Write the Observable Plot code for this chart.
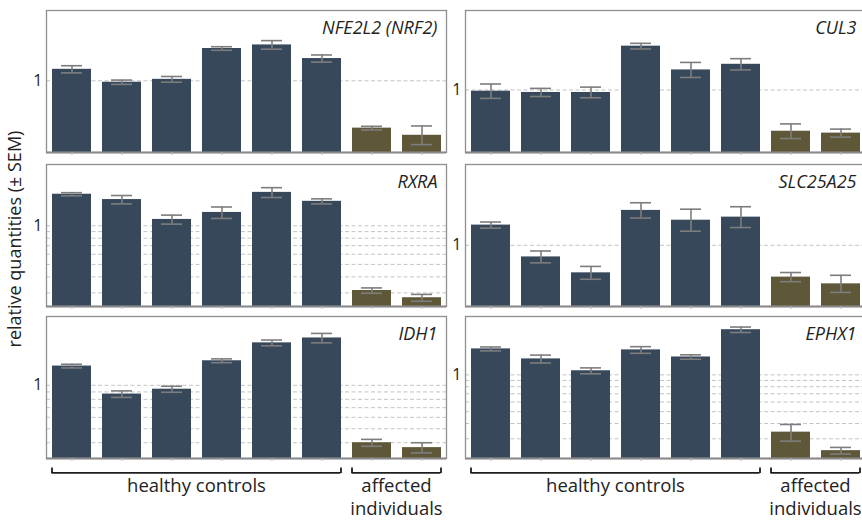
<!DOCTYPE html>
<html>
<head>
<meta charset="utf-8">
<script src="https://cdn.jsdelivr.net/npm/d3@7"></script>
<script src="https://cdn.jsdelivr.net/npm/@observablehq/plot@0.6"></script>
<style>
html, body { margin: 0; padding: 0; background: #fff; overflow: hidden; width: 862px; height: 521px; }
#chart { position: relative; width: 862px; height: 521px; font-family: 'Open Sans', sans-serif; color: #222; overflow: hidden; }
#chart svg { position: absolute; overflow: visible; }
.ylab { position: absolute; width: 300px; text-align: center; font-size: 18px; line-height: 22px; transform-origin: 0 0; transform: rotate(-90deg); white-space: nowrap; }
</style>
</head>
<body>
<div id="chart"></div>
<script>
// ---- data ----
const samples = ["C1", "C2", "C3", "C4", "C5", "C6", "P1", "P2"];
const groups = ["healthy", "healthy", "healthy", "healthy", "healthy", "healthy", "affected", "affected"];
const genes = ["NFE2L2 (NRF2)", "CUL3", "RXRA", "SLC25A25", "IDH1", "EPHX1"];
const scaleTypes = ["linear", "linear", "log", "linear", "log", "log"];
const yMin = [0, 0, 0.235, 0, 0.311, 0.207];
const yMax = [1.98, 2.27, 3, 2.32, 3, 3];

const nfe2l2 = [1.16, 0.98, 1.02, 1.45, 1.50, 1.31, 0.34, 0.24];
const nfe2l2Sem = [0.05, 0.03, 0.04, 0.025, 0.06, 0.05, 0.025, 0.13];
const cul3 = [0.98, 0.96, 0.96, 1.70, 1.32, 1.41, 0.34, 0.31];
const cul3Sem = [0.115, 0.065, 0.085, 0.045, 0.12, 0.09, 0.117, 0.064];
const rxra = [1.76, 1.60, 1.12, 1.27, 1.82, 1.55, 0.313, 0.275];
const rxraSem = [0.05, 0.12, 0.09, 0.13, 0.16, 0.07, 0.015, 0.017];
const slc25a25 = [1.33, 0.81, 0.55, 1.57, 1.41, 1.46, 0.48, 0.37];
const slc25a25Sem = [0.05, 0.097, 0.105, 0.125, 0.18, 0.17, 0.075, 0.14];
const idh1 = [1.36, 0.87, 0.94, 1.48, 1.97, 2.13, 0.40, 0.37];
const idh1Sem = [0.04, 0.045, 0.045, 0.045, 0.09, 0.16, 0.022, 0.03];
const ephx1 = [1.63, 1.35, 1.08, 1.60, 1.40, 2.34, 0.34, 0.24];
const ephx1Sem = [0.06, 0.1, 0.06, 0.1, 0.058, 0.12, 0.053, 0.015];

const values = [nfe2l2, cul3, rxra, slc25a25, idh1, ephx1];
const sems = [nfe2l2Sem, cul3Sem, rxraSem, slc25a25Sem, idh1Sem, ephx1Sem];

const yTickLabels = [1];
const logGrid = [1, 0.9, 0.8, 0.7, 0.6, 0.5, 0.4, 0.3, 0.2, 0.1];
const linearGrid = [1];

const groupLabels = ["healthy controls", "affected\nindividuals"];
const groupStart = [0, 6];
const groupEnd = [6, 8];
const yTitle = "relative quantities (± SEM)";

// ---- layout ----
const chart = document.getElementById("chart");
const colLeft = [0, 419];
const rowTop = [10, 163.5, 316];
const frameH = 142;
const mt = 2, mb = 6;
const blue = "#37485b", olive = "#5e5839";
const font = "'Open Sans', sans-serif";

genes.forEach((gene, i) => {
  const col = i % 2, row = Math.floor(i / 2);
  const data = samples.map((s, j) => ({sample: s, group: groups[j], value: values[i][j], sem: sems[i][j]}));
  const isLog = scaleTypes[i] === "log";
  const grid = (isLog ? logGrid : linearGrid).filter(g => g > yMin[i] && g < yMax[i]);
  const p = Plot.plot({
    width: 450,
    height: frameH + mt + mb,
    marginLeft: 46, marginRight: 4, marginTop: mt, marginBottom: mb,
    style: {fontFamily: font, background: "transparent", color: "#222"},
    x: {domain: samples, paddingInner: 0.22, paddingOuter: 0.11},
    y: {type: scaleTypes[i], domain: [yMin[i], yMax[i]]},
    color: {domain: ["healthy", "affected"], range: [blue, olive]},
    marks: [
      Plot.ruleY(grid, {stroke: "#c4c4c4", strokeWidth: 1, strokeDasharray: "4,2.5"}),
      Plot.barY(data, {x: "sample", y1: yMin[i], y2: "value", fill: "group"}),
      Plot.ruleX(data, {x: "sample", y1: d => d.value - d.sem, y2: d => d.value + d.sem, stroke: "#7d7d7d", strokeWidth: 1.6}),
      Plot.tickY(data, {x: "sample", y: d => d.value + d.sem, stroke: "#7d7d7d", strokeWidth: 1.6, inset: 9}),
      Plot.tickY(data, {x: "sample", y: d => d.value - d.sem, stroke: "#7d7d7d", strokeWidth: 1.6, inset: 9}),
      Plot.frame({stroke: "#8f8f8f", strokeWidth: 1.3}),
      Plot.ruleY([yMin[i]], {stroke: "#8a8a8a", strokeWidth: 2}),
      Plot.axisX({tickSize: 3, tickFormat: () => "", stroke: "#b5b5b5", label: null}),
      Plot.axisY({ticks: yTickLabels, tickSize: 0, tickPadding: 4, tickFormat: d => String(d), fontSize: 16, label: null}),
      Plot.text([gene], {text: d => d, frameAnchor: "top-right", dx: -9, dy: 11.2, lineAnchor: "top", fontStyle: "italic", fontSize: 18, fill: "#222"})
    ]
  });
  p.style.left = colLeft[col] + "px";
  p.style.top = (rowTop[row] - mt) + "px";
  chart.appendChild(p);
});

// group brackets below the bottom row
const gdata = groupLabels.map((g, k) => ({label: g, start: groupStart[k], end: groupEnd[k]}));
colLeft.forEach(left => {
  const p = Plot.plot({
    width: 450, height: 61,
    marginLeft: 46, marginRight: 4, marginTop: 0, marginBottom: 0,
    style: {fontFamily: font, background: "transparent", color: "#222"},
    x: {type: "linear", domain: [0, 8], axis: null},
    y: {type: "linear", domain: [0, 61], range: [0, 61], axis: null},
    marks: [
      Plot.ruleY(gdata, {x1: d => d.start + 0.11, x2: d => d.end - 0.11, y: 12.3, stroke: "#1e1e1e", strokeWidth: 1.8}),
      Plot.ruleX(gdata, {x: d => d.start + 0.11, y1: 7.5, y2: 13.1, stroke: "#1e1e1e", strokeWidth: 1.8}),
      Plot.ruleX(gdata, {x: d => d.end - 0.11, y1: 7.5, y2: 13.1, stroke: "#1e1e1e", strokeWidth: 1.8}),
      Plot.text(gdata, {x: d => (d.start + d.end) / 2, y: 15.4, text: "label", lineAnchor: "top", fontSize: 18.5, lineHeight: 1.24, fill: "#222"})
    ]
  });
  p.style.left = left + "px";
  p.style.top = "460px";
  chart.appendChild(p);
});

const yl = document.createElement("div");
yl.className = "ylab";
yl.textContent = yTitle;
yl.style.left = "3px";
yl.style.top = (239 + 150) + "px";
chart.appendChild(yl);
</script>
</body>
</html>
